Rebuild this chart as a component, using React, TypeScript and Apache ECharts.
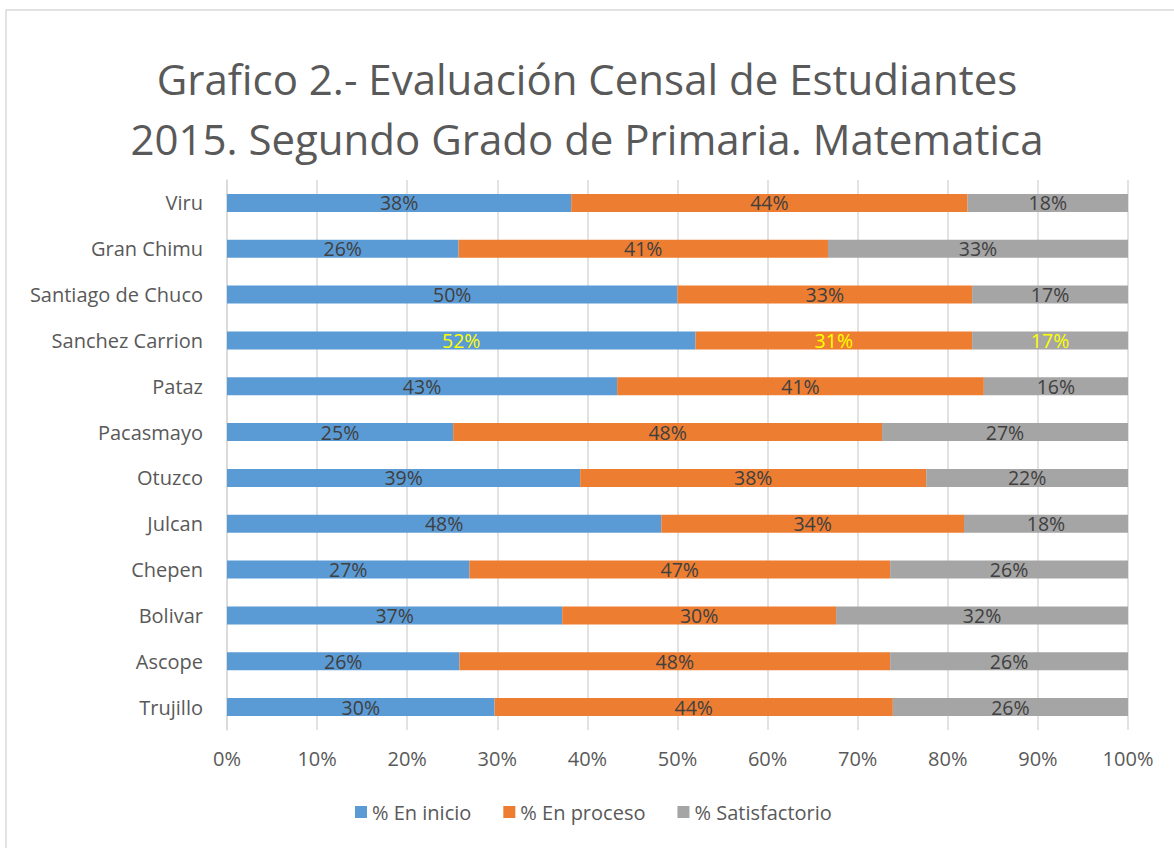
import React, { useEffect, useRef } from "react";
import * as echarts from "echarts";

const categories = [
  "Trujillo",
  "Ascope",
  "Bolivar",
  "Chepen",
  "Julcan",
  "Otuzco",
  "Pacasmayo",
  "Pataz",
  "Sanchez Carrion",
  "Santiago de Chuco",
  "Gran Chimu",
  "Viru",
];

const enInicio = [29.7, 25.8, 37.2, 26.9, 48.2, 39.2, 25.1, 43.3, 52.0, 50.0, 25.7, 38.2];
const enProceso = [44.2, 47.8, 30.4, 46.7, 33.6, 38.4, 47.6, 40.7, 30.7, 32.7, 41.0, 44.0];
const satisfactorio = [26.1, 26.4, 32.4, 26.4, 18.2, 22.4, 27.3, 16.0, 17.3, 17.3, 33.3, 17.8];

const seriesNames = ["% En inicio", "% En proceso", "% Satisfactorio"];
const seriesColors = ["#5B9BD5", "#ED7D31", "#A5A5A5"];
const highlighted = "Sanchez Carrion";

const titleLines = [
  "Grafico 2.- Evaluación Censal de Estudiantes",
  "2015. Segundo Grado de Primaria. Matematica",
];

const FONT = "'Open Sans', 'Noto Sans', sans-serif";

export default function App() {
  const ref = useRef<HTMLDivElement>(null);

  useEffect(() => {
    if (!ref.current) return;
    const chart = echarts.init(ref.current, null, { renderer: "svg" });
    const datasets = [enInicio, enProceso, satisfactorio];
    const series = datasets.map((vals, si) => ({
      name: seriesNames[si],
      type: "bar",
      stack: "total",
      barWidth: 18,
      itemStyle: { color: seriesColors[si] },
      label: {
        show: true,
        position: "inside",
        fontFamily: FONT,
        fontSize: 19.5,
        color: "#404040",
        formatter: (p: any) => Math.round(p.value) + "%",
      },
      data: vals.map((v, i) => ({
        value: v,
        label:
          categories[i] === highlighted
            ? { color: "#FFFF00" }
            : undefined,
      })),
    }));

    chart.setOption({
      animation: false,
      backgroundColor: "#ffffff",
      textStyle: { fontFamily: FONT },
      title: {
        text: titleLines.join("\n"),
        left: "center",
        top: 43,
        textStyle: {
          fontFamily: FONT,
          fontSize: 42,
          fontWeight: "normal",
          color: "#595959",
          lineHeight: 60,
        },
      },
      graphic: [
        {
          type: "rect",
          shape: { x: 6, y: 10, width: 1300, height: 1000 },
          style: { fill: "none", stroke: "#D9D9D9", lineWidth: 1.5 },
          silent: true,
        },
      ],
      legend: {
        bottom: 21,
        left: 350,
        itemWidth: 12,
        itemHeight: 12,
        itemGap: 32,
        icon: "rect",
        textStyle: { fontFamily: FONT, fontSize: 20, color: "#595959" },
        data: seriesNames,
      },
      grid: {
        left: 227,
        right: 46,
        top: 180,
        bottom: 118,
        containLabel: false,
      },
      xAxis: {
        type: "value",
        min: 0,
        max: 100,
        interval: 10,
        axisLine: { show: false },
        axisTick: { show: false },
        splitLine: { show: true, lineStyle: { color: "#D9D9D9", width: 1.5 } },
        axisLabel: {
          formatter: (v: number) => v + "%",
          fontFamily: FONT,
          fontSize: 20,
          color: "#595959",
          margin: 18,
        },
      },
      yAxis: {
        type: "category",
        data: categories,
        axisLine: { show: true, lineStyle: { color: "#D9D9D9", width: 1.5 } },
        axisTick: { show: false },
        axisLabel: {
          fontFamily: FONT,
          fontSize: 20,
          color: "#595959",
          margin: 24,
        },
      },
      series,
    });

    return () => chart.dispose();
  }, []);

  return (
    <div
      ref={ref}
      style={{ position: "fixed", left: 0, top: 0, width: 1174, height: 848 }}
    />
  );
}
